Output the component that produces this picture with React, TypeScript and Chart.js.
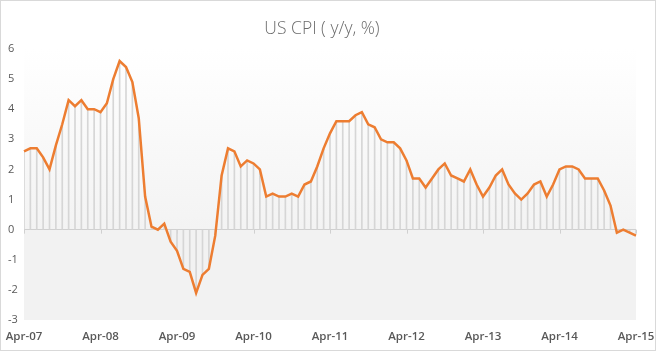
import React, { useEffect, useRef } from 'react';
import { Chart, registerables } from 'chart.js';

Chart.register(...registerables);

const TITLE = 'US CPI ( y/y, %)';
const MONTHS = ['Jan', 'Feb', 'Mar', 'Apr', 'May', 'Jun', 'Jul', 'Aug', 'Sep', 'Oct', 'Nov', 'Dec'];
const START_YEAR = 2007;
const START_MONTH = 3; // April

// US CPI y/y %, monthly Apr-07 .. Apr-15
const CPI = [
  2.6, 2.7, 2.7, 2.4, 2.0, 2.8, 3.5, 4.3, 4.1,
  4.3, 4.0, 4.0, 3.9, 4.2, 5.0, 5.6, 5.4, 4.9, 3.7, 1.1, 0.1,
  0.0, 0.2, -0.4, -0.7, -1.3, -1.4, -2.1, -1.5, -1.3, -0.2, 1.8, 2.7,
  2.6, 2.1, 2.3, 2.2, 2.0, 1.1, 1.2, 1.1, 1.1, 1.2, 1.1, 1.5,
  1.6, 2.1, 2.7, 3.2, 3.6, 3.6, 3.6, 3.8, 3.9, 3.5, 3.4, 3.0,
  2.9, 2.9, 2.7, 2.3, 1.7, 1.7, 1.4, 1.7, 2.0, 2.2, 1.8, 1.7,
  1.6, 2.0, 1.5, 1.1, 1.4, 1.8, 2.0, 1.5, 1.2, 1.0, 1.2, 1.5,
  1.6, 1.1, 1.5, 2.0, 2.1, 2.1, 2.0, 1.7, 1.7, 1.7, 1.3, 0.8,
  -0.1, 0.0, -0.1, -0.2,
];

const CATEGORIES = CPI.map((_, i) => {
  const k = START_MONTH + i;
  const m = k % 12;
  const y = START_YEAR + Math.floor(k / 12);
  return `${MONTHS[m]}-${String(y % 100).padStart(2, '0')}`;
});

const TICK_LABELS = ['Apr-07', 'Apr-08', 'Apr-09', 'Apr-10', 'Apr-11', 'Apr-12', 'Apr-13', 'Apr-14', 'Apr-15'];
const Y_MIN = -3;
const Y_MAX = 6;

const decor = {
  id: 'decor',
  beforeDraw(chart: any) {
    const { ctx, chartArea: a, scales } = chart;
    const zero = scales.y.getPixelForValue(0);
    ctx.save();
    const g = ctx.createLinearGradient(0, a.top, 0, zero);
    g.addColorStop(0, '#ffffff');
    g.addColorStop(1, '#f3f3f3');
    ctx.fillStyle = g;
    ctx.fillRect(a.left, a.top, a.right - a.left, zero - a.top);
    ctx.fillStyle = '#f2f2f2';
    ctx.fillRect(a.left, zero, a.right - a.left, a.bottom - zero);
    ctx.restore();
  },
  beforeDatasetsDraw(chart: any) {
    const { ctx, scales } = chart;
    const zero = scales.y.getPixelForValue(0);
    ctx.save();
    ctx.strokeStyle = '#d0d0d0';
    ctx.lineWidth = 1;
    CATEGORIES.forEach((c, i) => {
      if (TICK_LABELS.includes(c)) {
        const x = Math.round(scales.x.getPixelForValue(i)) + 0.5;
        ctx.beginPath();
        ctx.moveTo(x, zero);
        ctx.lineTo(x, zero + 4);
        ctx.stroke();
      }
    });
    ctx.restore();
  },
};

export default function App() {
  const ref = useRef<HTMLCanvasElement>(null);
  useEffect(() => {
    document.body.style.margin = '0';
    const chart = new Chart(ref.current!, {
      type: 'line',
      data: {
        labels: CATEGORIES,
        datasets: [
          {
            type: 'line',
            data: CPI,
            borderColor: '#ED7D31',
            borderWidth: 2.5,
            pointRadius: 0,
            tension: 0,
            fill: false,
            order: 0,
          },
          {
            type: 'bar',
            data: CPI,
            backgroundColor: '#d6d6d6',
            barThickness: 1,
            order: 1,
          } as any,
        ],
      },
      options: {
        animation: false,
        responsive: false,
        layout: { padding: { left: 7, right: 19, top: 0, bottom: 0 } },
        plugins: {
          legend: { display: false },
          tooltip: { enabled: false },
          title: {
            display: true,
            text: TITLE,
            color: '#6b6b6b',
            font: { family: 'Open Sans', size: 17.5, weight: '300' as any },
            padding: { top: 17.5, bottom: 9.5 },
          },
        },
        scales: {
          x: {
            type: 'category',
            offset: false,
            grid: { display: false, drawTicks: false },
            border: { display: false },
            ticks: {
              autoSkip: false,
              maxRotation: 0,
              minRotation: 0,
              padding: 10,
              color: '#595959',
              font: { family: 'Open Sans', size: 11.5, weight: '600' as any },
              callback: (_v: any, i: number) => (TICK_LABELS.includes(CATEGORIES[i]) ? CATEGORIES[i] : ''),
            },
            afterFit: (s: any) => {
              s.height = 30;
              s.paddingLeft = 0;
              s.paddingRight = 0;
            },
          },
          y: {
            min: Y_MIN,
            max: Y_MAX,
            border: { display: false },
            grid: {
              drawTicks: false,
              color: (c: any) => (c.tick && c.tick.value === 0 ? '#d0d0d0' : 'rgba(0,0,0,0)'),
            },
            ticks: {
              stepSize: 1,
              crossAlign: 'far',
              padding: 0,
              color: '#595959',
              font: { family: 'Open Sans', size: 11 },
            },
            afterFit: (s: any) => {
              s.width = 16;
              s.paddingTop = 0;
              s.paddingBottom = 0;
            },
          },
        },
      },
      plugins: [decor],
    });
    return () => chart.destroy();
  }, []);
  return (
    <div
      style={{
        position: 'fixed',
        left: 0,
        top: 0,
        width: 656,
        height: 351,
        boxSizing: 'border-box',
        border: '1px solid #d9d9d9',
        background: '#ffffff',
      }}
    >
      <canvas ref={ref} width={654} height={349} style={{ display: 'block', width: 654, height: 349 }} />
    </div>
  );
}
